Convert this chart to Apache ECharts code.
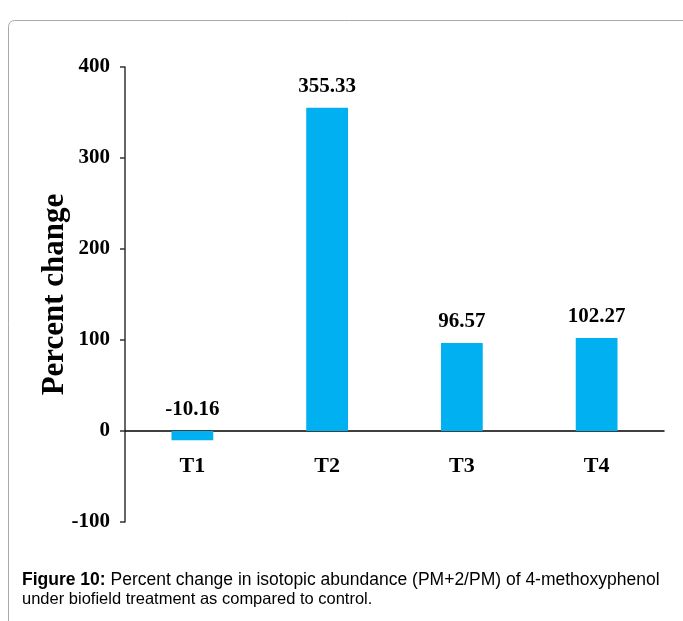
<!DOCTYPE html>
<html>
<head>
<meta charset="utf-8">
<script src="https://cdn.jsdelivr.net/npm/echarts@6/dist/echarts.min.js"></script>
<style>
html,body{margin:0;padding:0;background:#fff;}
#chart{width:683px;height:621px;}
</style>
</head>
<body>
<div id="chart"></div>
<script>
const categories = ['T1', 'T2', 'T3', 'T4'];
const percentChange = [-10.16, 355.33, 96.57, 102.27];
const yTicks = { min: -100, max: 400, interval: 100 };
const yAxisTitle = 'Percent change';
const captionBold = 'Figure 10:';
const captionLine1 = ' Percent change in isotopic abundance (PM+2/PM) of 4-methoxyphenol';
const captionLine2 = 'under biofield treatment as compared to control.';

const serif = "'Liberation Serif', 'Times New Roman', serif";
const sans = "'Liberation Sans', Arial, sans-serif";

const chart = echarts.init(document.getElementById('chart'), null, { renderer: 'canvas' });
chart.setOption({
  backgroundColor: '#fff',
  animation: false,
  grid: { left: 125, right: 19, top: 67, bottom: 99, containLabel: false },
  xAxis: {
    type: 'category',
    data: categories,
    position: 'bottom',
    offset: -91,
    axisLine: { show: true, onZero: false, lineStyle: { color: '#000', width: 1.5 } },
    axisTick: { show: false },
    axisLabel: { color: '#000', fontFamily: serif, fontWeight: 'bold', fontSize: 22, margin: 24 }
  },
  yAxis: {
    type: 'value',
    min: yTicks.min, max: yTicks.max, interval: yTicks.interval,
    name: yAxisTitle,
    nameLocation: 'middle',
    nameGap: 55,
    nameMoveOverlap: false,
    nameTextStyle: { color: '#000', fontFamily: serif, fontWeight: 'bold', fontSize: 31 },
    axisLine: { show: true, lineStyle: { color: '#333', width: 1.5 } },
    axisTick: { show: true, inside: false, length: 5, lineStyle: { color: '#333', width: 1.5 } },
    splitLine: { show: false },
    axisLabel: { color: '#000', fontFamily: serif, fontWeight: 'bold', fontSize: 21, margin: 15 }
  },
  series: [{
    type: 'bar',
    data: percentChange,
    barWidth: '31%',
    itemStyle: { color: '#00B0F0' },
    label: {
      show: true,
      position: 'top',
      distance: 11,
      color: '#000',
      fontFamily: serif,
      fontWeight: 'bold',
      fontSize: 21,
      formatter: p => p.value.toFixed(2)
    }
  }],
  graphic: [
    {
      type: 'rect',
      shape: { x: 8.5, y: 20.5, width: 720, height: 640, r: 6 },
      style: { fill: 'none', stroke: '#a8a8a8', lineWidth: 1 },
      silent: true
    },
    {
      type: 'text',
      left: 22, top: 571,
      style: {
        text: '{b|' + captionBold + '}{n|' + captionLine1 + '}',
        rich: {
          b: { fontFamily: sans, fontWeight: 'bold', fontSize: 17.5, fill: '#000' },
          n: { fontFamily: sans, fontSize: 17.5, fill: '#000' }
        }
      }
    },
    {
      type: 'text',
      left: 22, top: 591,
      style: { text: captionLine2, fontFamily: sans, fontSize: 16.5, fill: '#000' }
    }
  ]
});
</script>
</body>
</html>
